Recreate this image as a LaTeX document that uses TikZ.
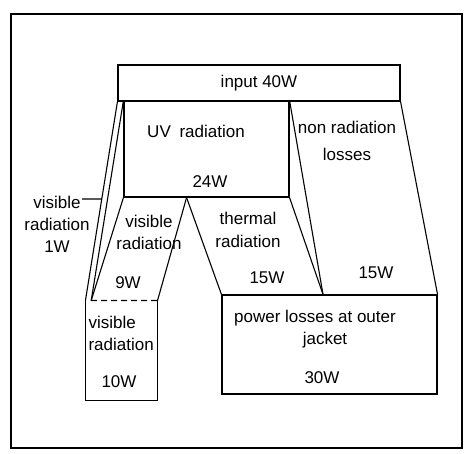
\documentclass[tikz,border=0pt]{standalone}
\usepackage{fontspec}
\setmainfont{Liberation Sans}
\usetikzlibrary{positioning, calc}

\begin{document}
\begin{tikzpicture}[
  x=1pt, y=-1pt,
  font=\fontsize{17}{22}\selectfont,
  line width=1.1pt,
  box/.style={draw, inner sep=0pt, minimum width=#1},
  blank/.style={inner sep=0pt, minimum width=#1},
  label/.style={align=center, inner sep=1pt},
  flow/.style={draw, line cap=round},
]
\useasboundingbox (0,0) rectangle (466,453);

% outer frame
\draw[line width=1.3pt] (11,14) rectangle (462,448);

% boxes
\node[box=282pt, minimum height=36pt] (input) at (259,83) {input 40W};
\node[box=165pt, minimum height=96pt] (uv) at (206.5,149) {};
\node[blank=71pt, minimum height=99pt] (vis) at (121.5,350.5) {};
\node[box=215pt, minimum height=99pt] (jacket) at (329.5,344.5) {};

% points where the flows split or join
\coordinate (apex) at ($(uv.south west)!0.38!(uv.south east)$);
\coordinate (join) at ($(jacket.north west)!0.47!(jacket.north east)$);
\coordinate (foot) at ($(vis.north west)!0.08!(vis.north east)$);

% visible radiation box, open at the top
\draw (vis.north west) -- (vis.south west) -- (vis.south east) -- (vis.north east);
\draw[line width=1.4pt, dash pattern=on 6pt off 4pt] (foot) -- (vis.north east);

% flows
\draw[flow] (input.south west) -- (vis.north west);
\draw[flow] (uv.north west) -- (foot);
\draw[flow] (uv.south west) -- (foot);
\draw[flow] (apex) -- (vis.north east);
\draw[flow] (apex) -- (jacket.north west);
\draw[flow] (uv.north east) -- (join);
\draw[flow] (uv.south east) -- (join);
\draw[flow] (input.south east) -- (jacket.north east);

% texts
\node[label] (uvtxt) at (196,131) {UV\hspace{4pt} radiation};
\node[label] (uvval) at (210,182) {24W};
\node[label] (nontxt) at (347,141) {non radiation\\[5pt]losses};
\node[label] (nonval) at (376,273) {15W};
\node[label] (thtxt) at (248,230) {thermal\\[1pt]radiation};
\node[label] (thval) at (267,278) {15W};
\node[label] (v9txt) at (149,232) {visible\\radiation};
\node[label] (v9val) at (128,283) {9W};
\node[label, align=left, anchor=west] (v10txt) at (87,333) {visible\\radiation};
\node[label] (v10val) at (119,382) {10W};
\node[label] (jtxt) at (315,329) {power losses at outer\\\hspace*{20pt}jacket};
\node[label] (jval) at (322,378) {30W};
\node[label] (v1txt) at (57,224) {visible\hspace{14pt}\\radiation\\1W};

% pointer from the side label to the thin visible flow
\coordinate (v1tip) at (82,199);
\draw (v1tip) -- ($(input.south west)!0.49!(vis.north west)$);
\end{tikzpicture}
\end{document}
